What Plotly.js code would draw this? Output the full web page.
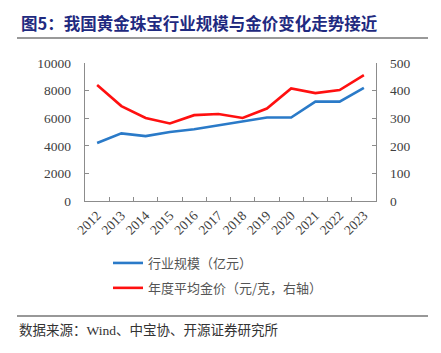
<!DOCTYPE html>
<html>
<head>
<meta charset="utf-8">
<script src="https://cdn.plot.ly/plotly-3.0.1.min.js"></script>
<style>
html,body{margin:0;padding:0;background:#fff;}
#chart{width:441px;height:353px;}
</style>
</head>
<body>
<div id="chart"></div>
<script>
const years = ["2012","2013","2014","2015","2016","2017","2018","2019","2020","2021","2022","2023"];
const industryScale = [4200, 4900, 4700, 5000, 5200, 5500, 5800, 6050, 6050, 7200, 7200, 8200];
const goldPrice = [420, 344, 301, 281, 311, 315, 301, 335, 408, 391, 402, 456];
const leftTicks = [0, 2000, 4000, 6000, 8000, 10000];
const leftTickText = ["0", "2000", "4000", "6000", "8000", "10000"];
const rightTicks = [0, 100, 200, 300, 400, 500];
const rightTickText = ["0", "100", "200", "300", "400", "500"];
const nameScale = "行业规模（亿元）";
const nameGold = "年度平均金价（元/克，右轴）";
const titleText = "图5：我国黄金珠宝行业规模与金价变化走势接近";
const sourceText = "数据来源：Wind、中宝协、开源证券研究所";

// plot area in pixels
const L = 85, R = 376, T = 63, B = 201;
const W = 441, H = 353;
const px = x => (x - L) / (R - L);
const py = y => (B - y) / (B - T);

const serif = "Liberation Serif, Times New Roman, serif";
const cjk = "Noto Sans CJK SC, sans-serif";

const traces = [
  {x: years, y: industryScale, name: nameScale, type: "scatter", mode: "lines",
   line: {color: "#2a7ac8", width: 2.6}, yaxis: "y", legendgroup: "a"},
  {x: years, y: goldPrice, name: nameGold, type: "scatter", mode: "lines",
   line: {color: "#ff1010", width: 2.6}, yaxis: "y2", legendgroup: "b"}
];

const axisCommon = {
  showgrid: false, zeroline: false, showline: true, linecolor: "#8c8c8c", linewidth: 1.2,
  ticks: "inside", ticklen: 4, tickcolor: "#8c8c8c", tickwidth: 1,
  tickfont: {family: serif, size: 13.5, color: "#404040"}
};

const layout = {
  width: W, height: H,
  margin: {l: L, r: W - R, t: T, b: H - B, pad: 0},
  paper_bgcolor: "#fff", plot_bgcolor: "#fff",
  showlegend: true,
  legend: {x: px(108), y: py(248), xanchor: "left", yanchor: "top",
    font: {family: cjk, size: 13, color: "#555"}, traceorder: "grouped",
    tracegroupgap: 5, bgcolor: "rgba(0,0,0,0)", itemwidth: 30},
  xaxis: Object.assign({}, axisCommon, {type: "category", tickson: "boundaries",
    range: [-0.5, 11.5], tickangle: -45, categoryorder: "array", categoryarray: years}),
  yaxis: Object.assign({}, axisCommon, {range: [0, 10000], tickmode: "array",
    tickvals: leftTicks, ticktext: leftTickText, ticklabelstandoff: 10}),
  yaxis2: Object.assign({}, axisCommon, {range: [0, 500], tickmode: "array",
    tickvals: rightTicks, ticktext: rightTickText,
    overlaying: "y", side: "right", ticklabelstandoff: 10}),
  shapes: [
    {type: "line", xref: "paper", yref: "paper", x0: px(17), x1: px(428), y0: py(38), y1: py(38),
     line: {color: "#777", width: 1.5}},
    {type: "line", xref: "paper", yref: "paper", x0: px(17), x1: px(428), y0: py(316), y1: py(316),
     line: {color: "#333", width: 1.2}}
  ],
  annotations: [
    {text: "<b>" + titleText + "</b>", xref: "paper", yref: "paper", x: px(19), y: py(23),
     xanchor: "left", yanchor: "middle", showarrow: false,
     font: {family: cjk, size: 16.5, color: "#1f2a80"}},
    {text: sourceText, xref: "paper", yref: "paper", x: px(17), y: py(330),
     xanchor: "left", yanchor: "middle", showarrow: false,
     font: {family: "Liberation Serif, Noto Sans CJK SC, serif", size: 13.5, color: "#333"}}
  ]
};

Plotly.newPlot("chart", traces, layout, {displayModeBar: false, staticPlot: true});
</script>
</body>
</html>
